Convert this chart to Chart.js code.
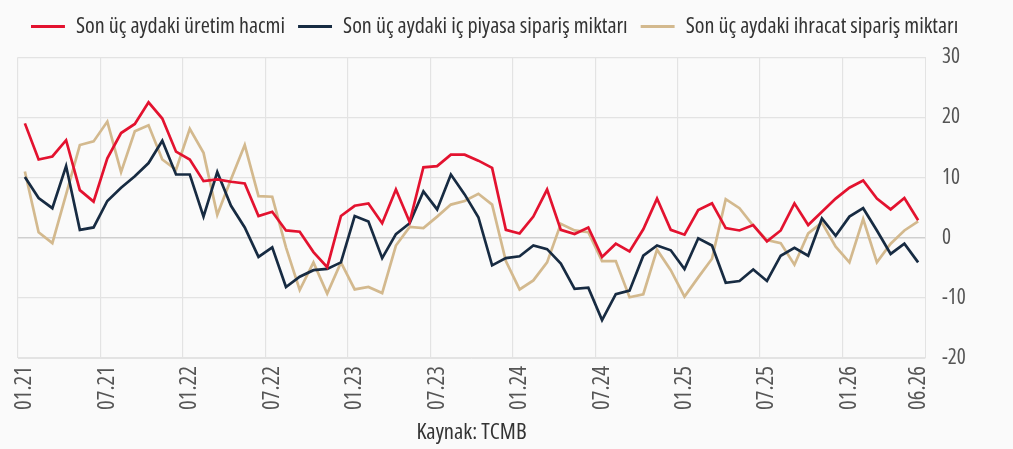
<!DOCTYPE html>
<html>
<head>
<meta charset="utf-8">
<script src="https://cdn.jsdelivr.net/npm/chart.js@4"></script>
<style>
  html, body { margin: 0; padding: 0; background: #fafafa; }
  #wrap { width: 1013px; height: 449px; }
</style>
</head>
<body>
<div id="wrap"><canvas id="chart" width="1013" height="449"></canvas></div>
<script>
// aylar (AA.YY)
const months = [
    '01.21', '02.21', '03.21', '04.21', '05.21', '06.21', '07.21', '08.21', '09.21', '10.21', '11.21', '12.21',
    '01.22', '02.22', '03.22', '04.22', '05.22', '06.22', '07.22', '08.22', '09.22', '10.22', '11.22', '12.22',
    '01.23', '02.23', '03.23', '04.23', '05.23', '06.23', '07.23', '08.23', '09.23', '10.23', '11.23', '12.23',
    '01.24', '02.24', '03.24', '04.24', '05.24', '06.24', '07.24', '08.24', '09.24', '10.24', '11.24', '12.24',
    '01.25', '02.25', '03.25', '04.25', '05.25', '06.25', '07.25', '08.25', '09.25', '10.25', '11.25', '12.25',
    '01.26', '02.26', '03.26', '04.26', '05.26', '06.26'
];

// Son üç aydaki üretim hacmi
const uretim = [
    19.0, 13.0, 13.5, 16.2, 7.9, 6.0, 13.2, 17.4, 18.9, 22.5, 19.8, 14.3,
    13.0, 9.4, 9.7, 9.3, 9.0, 3.6, 4.3, 1.2, 1.0, -2.4, -4.9, 3.6,
    5.3, 5.7, 2.4, 8.0, 2.6, 11.7, 11.9, 13.8, 13.8, 12.8, 11.6, 1.3,
    0.7, 3.5, 8.0, 1.3, 0.6, 1.7, -3.2, -1.0, -2.3, 1.4, 6.5, 1.3,
    0.5, 4.6, 5.7, 1.6, 1.2, 2.1, -0.6, 1.2, 5.7, 2.1, 4.3, 6.5,
    8.3, 9.5, 6.5, 4.7, 6.6, 2.9
];

// Son üç aydaki iç piyasa sipariş miktarı
const icPiyasa = [
    10.1, 6.6, 4.9, 11.9, 1.3, 1.7, 6.1, 8.3, 10.2, 12.4, 16.1, 10.5,
    10.5, 3.5, 10.9, 5.3, 1.7, -3.2, -1.6, -8.2, -6.5, -5.4, -5.2, -4.1,
    3.6, 2.7, -3.4, 0.6, 2.4, 7.7, 4.7, 10.5, 7.2, 3.4, -4.6, -3.4,
    -3.1, -1.3, -1.9, -4.3, -8.5, -8.3, -13.7, -9.4, -8.8, -3.0, -1.3, -2.1,
    -5.2, -0.1, -1.3, -7.5, -7.2, -5.3, -7.2, -3.0, -1.7, -3.0, 3.2, 0.3,
    3.5, 4.9, 1.2, -2.7, -1.0, -4.1
];

// Son üç aydaki ihracat sipariş miktarı
const ihracat = [
    11.0, 0.9, -0.9, 7.2, 15.4, 16.0, 19.3, 10.9, 17.7, 18.7, 13.0, 11.3,
    18.1, 14.1, 3.8, 9.7, 15.4, 6.9, 6.8, -1.6, -8.7, -4.1, -9.3, -4.1,
    -8.6, -8.2, -9.2, -1.3, 1.8, 1.6, 3.5, 5.5, 6.1, 7.3, 5.5, -3.9,
    -8.6, -7.1, -4.1, 2.3, 1.2, 0.9, -3.9, -3.9, -9.9, -9.4, -2.0, -5.4,
    -9.8, -6.6, -3.5, 6.4, 4.9, 2.0, -0.4, -0.9, -4.5, 0.7, 2.5, -1.5,
    -4.1, 3.1, -4.1, -1.0, 1.2, 2.7
];

const yTicks = [-20, -10, 0, 10, 20, 30];

const RED = '#e3122f';
const NAVY = '#172b42';
const TAN = '#d3b98e';
const GRID = '#e3e3e3';

// dar (condensed) yazı tipi seç, yoksa normal Open Sans
const measureCtx = document.createElement('canvas').getContext('2d');
function textWidth(font, text) {
    measureCtx.font = font;
    return measureCtx.measureText(text).width;
}
function pickFace() {
    const t = 'Son üç aydaki üretim hacmi';
    const base = textWidth("20px 'Open Sans'", t);
    const cond = textWidth("condensed 20px 'Open Sans'", t);
    if (cond < base * 0.93) return { family: "'Open Sans', sans-serif", weight: 'condensed' };
    const mono = textWidth('20px monospace', t);
    const narrow = textWidth("20px 'Liberation Sans Narrow', monospace", t);
    if (Math.abs(narrow - mono) > 1) return { family: "'Liberation Sans Narrow', sans-serif", weight: 'normal' };
    return { family: "'Open Sans', sans-serif", weight: 'normal' };
}
const FACE = pickFace();
function sizeFor(text, target) {
    const w = textWidth(FACE.weight + ' 20px ' + FACE.family, text);
    return Math.round(200 * target / w) / 10;
}
function font(size) {
    return { family: FACE.family, weight: FACE.weight, size: size };
}

const legendSize = sizeFor('Son üç aydaki üretim hacmi', 209);
const xTickSize = sizeFor('01.21', 44);
const yTickSize = sizeFor('30', 18);
const titleSize = sizeFor('Kaynak: TCMB', 110);

// lejant yerleşimi
const legendPad = 13;
const topPad = Math.max(0, 26.5 - legendPad - legendSize / 2);
const spacer = Math.max(1, 55 - (topPad + legendSize + legendPad + 9));

// arka plan rengi
const bgPlugin = {
    id: 'bg',
    beforeDraw(chart) {
        const ctx = chart.ctx;
        ctx.save();
        ctx.fillStyle = '#fafafa';
        ctx.fillRect(0, 0, chart.width, chart.height);
        ctx.restore();
    }
};

function lineSet(label, data, color) {
    return {
        label: label,
        data: data,
        borderColor: color,
        backgroundColor: color,
        borderWidth: 2.7,
        pointRadius: 0,
        tension: 0,
        fill: false
    };
}

new Chart(document.getElementById('chart'), {
    type: 'line',
    data: {
        labels: months,
        datasets: [
            lineSet('Son üç aydaki üretim hacmi', uretim, RED),
            lineSet('Son üç aydaki iç piyasa sipariş miktarı', icPiyasa, NAVY),
            lineSet('Son üç aydaki ihracat sipariş miktarı', ihracat, TAN)
        ]
    },
    options: {
        responsive: false,
        animation: false,
        layout: { padding: { left: 18, right: 0, top: topPad, bottom: 0 } },
        plugins: {
            legend: {
                position: 'top',
                align: 'start',
                labels: {
                    color: '#333',
                    font: font(legendSize),
                    boxWidth: Math.max(20, 45 - legendSize / 2),
                    boxHeight: 3,
                    padding: legendPad,
                    generateLabels(chart) {
                        return Chart.defaults.plugins.legend.labels.generateLabels(chart).map(l => {
                            l.lineWidth = 0;
                            return l;
                        });
                    }
                }
            },
            // lejant ile grafik arasında boşluk
            subtitle: {
                display: true,
                text: ' ',
                weight: 100,
                font: { size: 1 },
                padding: { top: 0, bottom: spacer }
            },
            tooltip: { enabled: false }
        },
        scales: {
            x: {
                offset: true,
                grid: {
                    offset: true,
                    drawTicks: false,
                    color: ctx => (ctx.index % 6 === 0 || ctx.index === months.length) ? GRID : 'rgba(0,0,0,0)',
                    lineWidth: 1.2
                },
                border: { color: GRID },
                ticks: {
                    autoSkip: false,
                    minRotation: 90,
                    maxRotation: 90,
                    padding: 8,
                    color: '#555',
                    font: font(xTickSize),
                    callback: function(value, index) {
                        if (index % 6 === 0 || index === months.length - 1) return months[index];
                        return '';
                    }
                },
                title: {
                    display: true,
                    text: 'Kaynak: TCMB',
                    color: '#333',
                    font: font(titleSize),
                    padding: { top: 4, bottom: 3 }
                },
                afterFit(scale) { scale.height = 91; }
            },
            y: {
                position: 'right',
                min: -20,
                max: 30,
                afterBuildTicks(scale) { scale.ticks = yTicks.map(v => ({ value: v })); },
                grid: {
                    drawTicks: false,
                    color: ctx => ctx.tick && ctx.tick.value === 0 ? '#cfcfcf' : GRID,
                    lineWidth: ctx => ctx.tick && ctx.tick.value === 0 ? 1.6 : 1.2
                },
                border: { color: GRID },
                ticks: {
                    padding: 17,
                    color: '#555',
                    font: font(yTickSize)
                },
                afterFit(scale) { scale.width = 88; }
            }
        }
    },
    plugins: [bgPlugin]
});
</script>
</body>
</html>
